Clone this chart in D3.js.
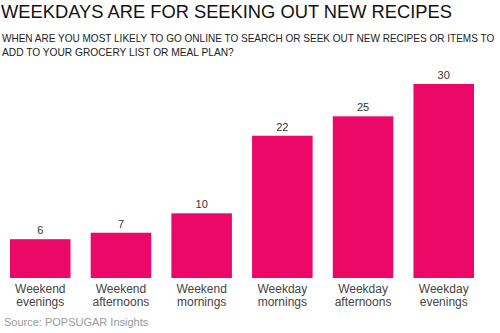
<!DOCTYPE html>
<html><head><meta charset="utf-8">
<script src="https://cdn.jsdelivr.net/npm/d3@7"></script>
<style>body{margin:0;background:#fff}svg{display:block;font-family:"Liberation Sans",Arial,Helvetica,sans-serif}</style>
</head><body>
<script>
const categories = [["Weekend","evenings"],["Weekend","afternoons"],["Weekend","mornings"],["Weekday","mornings"],["Weekday","afternoons"],["Weekday","evenings"]];
const values = [6,7,10,22,25,30];
const title = "WEEKDAYS ARE FOR SEEKING OUT NEW RECIPES";
const subtitle = ["WHEN ARE YOU MOST LIKELY TO GO ONLINE TO SEARCH OR SEEK OUT NEW RECIPES OR ITEMS TO","ADD TO YOUR GROCERY LIST OR MEAL PLAN?"];
const source = "Source: POPSUGAR Insights";

const W=500,H=333;
const svg=d3.select("body").append("svg").attr("width",W).attr("height",H);
const idx=d3.range(values.length);
const x=d3.scaleBand().domain(idx).range([10,474]).paddingInner(0.25).paddingOuter(0);
const y=d3.scaleLinear().domain([0,30]).range([278,84]);

svg.append("text").attr("x",1).attr("y",18).attr("font-size",19).attr("fill","#111").attr("textLength",451).attr("lengthAdjust","spacingAndGlyphs").text(title);
const subs=svg.selectAll("text.sub").data(subtitle).join("text").attr("class","sub")
  .attr("x",2).attr("y",(d,i)=>42+i*14.3).attr("font-size",10.2).attr("fill","#222").text(d=>d);
// shrink first line to fit if needed
subs.each(function(){
  const w=this.getComputedTextLength();
  if(w>492){d3.select(this).attr("font-size",10.2*492/w);}
});

svg.selectAll("rect").data(idx).join("rect")
  .attr("x",i=>x(i)).attr("width",x.bandwidth())
  .attr("y",i=>y(values[i])).attr("height",i=>y(0)-y(values[i]))
  .attr("fill","#ec0866");

svg.selectAll("text.val").data(idx).join("text").attr("class","val")
  .attr("x",i=>x(i)+x.bandwidth()/2).attr("y",i=>y(values[i])-5)
  .attr("text-anchor","middle").attr("font-size",11).attr("fill","#333").text(i=>values[i]);

const lab=svg.selectAll("text.cat").data(idx).join("text").attr("class","cat")
  .attr("text-anchor","middle").attr("font-size",12).attr("fill","#444");
lab.selectAll("tspan").data(i=>categories[i].map(t=>({t,i}))).join("tspan")
  .attr("x",d=>x(d.i)+x.bandwidth()/2).attr("y",(d,j)=>293+j*12.5).text(d=>d.t);

svg.append("text").attr("x",4).attr("y",326).attr("font-size",11).attr("fill","#999").text(source);
</script>
</body></html>
